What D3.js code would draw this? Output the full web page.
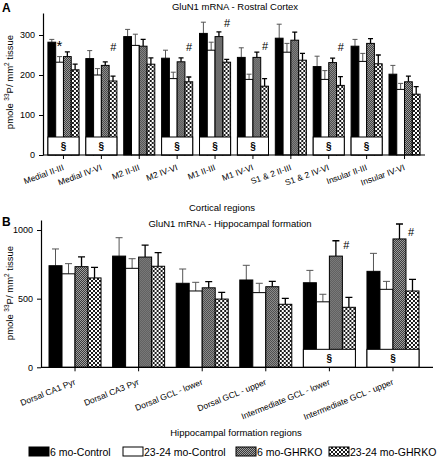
<!DOCTYPE html>
<html><head><meta charset="utf-8">
<script src="https://cdn.jsdelivr.net/npm/d3@7"></script>
<style>body{margin:0;background:#fff}svg{display:block;font-family:"Liberation Sans",Arial,sans-serif}</style>
</head><body><svg id="c" width="438" height="457"></svg>
<script>
// ---------- DATA ----------
const series = ["6 mo-Control","23-24 mo-Control","6 mo-GHRKO","23-24 mo-GHRKO"];
const catsA = ["Medial II-III","Medial IV-VI","M2 II-III","M2 IV-VI","M1 II-III","M1 IV-VI","S1 & 2 II-III","S1 & 2 IV-VI","Insular II-III","Insular IV-VI"];
const meanA_ctl6  = [282,241,296,242,304,244,292,221,272,202];
const meanA_ctl23 = [232,200,274,191,262,189,257,189,234,164];
const meanA_ko6   = [246,224,272,233,296,244,287,231,279,183];
const meanA_ko23  = [213,185,227,183,232,172,237,174,228,152];
const errA_ctl6   = [289,261,314,262,332,268,327,247,289,224];
const errA_ctl23  = [246,216,302,207,282,202,279,211,254,179];
const errA_ko6    = [258,233,289,243,308,257,307,242,291,197];
const errA_ko23   = [227,197,243,195,239,191,254,196,250,171];
const sectA = [1,1,0,1,1,1,0,1,1,0];
const marksA = [{g:0,s:"*",v:283,dx:-4},{g:1,s:"#",v:270,dx:12},{g:3,s:"#",v:270,dx:12},{g:4,s:"#",v:330,dx:12},{g:5,s:"#",v:272,dx:12},{g:7,s:"#",v:270,dx:12}];
const ticksA = [0,100,200,300];
const sectBoxA = 45;

const catsB = ["Dorsal CA1 Pyr","Dorsal CA3 Pyr","Dorsal GCL - lower","Dorsal GCL - upper","Intermediate GCL - lower","Intermediate GCL - upper"];
const meanB_ctl6  = [740,810,612,636,616,699];
const meanB_ctl23 = [681,721,556,544,477,568];
const meanB_ko6   = [733,803,579,587,810,935];
const meanB_ko23  = [651,736,497,459,437,556];
const errB_ctl6   = [862,944,716,743,706,830];
const errB_ctl23  = [755,791,619,612,532,626];
const errB_ko6    = [805,890,624,626,922,1044];
const errB_ko23   = [728,835,546,502,510,641];
const sectB = [0,0,0,0,1,1];
const marksB = [{g:4,s:"#",v:890,dx:17},{g:5,s:"#",v:985,dx:18}];
const ticksB = [0,500,1000];
const sectBoxB = 131;

// ---------- DRAW ----------
const svg = d3.select("#c");
const defs = svg.append("defs");
const pg = defs.append("pattern").attr("id","pg").attr("width",2).attr("height",2).attr("patternUnits","userSpaceOnUse");
pg.append("rect").attr("width",2).attr("height",2).attr("fill","#a0a0a0");
pg.append("rect").attr("width",1).attr("height",1).attr("fill","#3a3a3a");
pg.append("rect").attr("x",1).attr("y",1).attr("width",1).attr("height",1).attr("fill","#3a3a3a");
const pc = defs.append("pattern").attr("id","pc").attr("width",4).attr("height",4).attr("patternUnits","userSpaceOnUse");
pc.append("rect").attr("width",4).attr("height",4).attr("fill","#1a1a1a");
pc.append("rect").attr("x",0).attr("y",0).attr("width",2).attr("height",2).attr("fill","#fff");
pc.append("rect").attr("x",2).attr("y",2).attr("width",2).attr("height",2).attr("fill","#fff");
const fills = ["#000","#fff","url(#pg)","url(#pc)"];
const errColor = ["#555","#555","#000","#000"];

function panel(o){
  const g = svg.append("g");
  const y = d3.scaleLinear().domain(o.ydom).range(o.yr);
  const x = d3.scaleBand().domain(o.cats).range(o.xr).paddingInner(o.pi).paddingOuter(o.po);
  const xs = d3.scaleBand().domain(series).range([0,x.bandwidth()]);
  const data = o.cats.map((c,i)=>({c,i,vals:o.means.map((m,k)=>({k,v:m[i],e:o.errs[k][i]}))}));
  const grp = g.selectAll("g.grp").data(data).join("g").attr("transform",d=>`translate(${x(d.c)},0)`);
  grp.selectAll("path.err").data(d=>d.vals).join("path")
    .attr("d",d=>{const cx=xs(series[d.k])+xs.bandwidth()/2;return `M${cx},${y(d.v)}V${y(d.e)}M${cx-o.cap},${y(d.e)}H${cx+o.cap}`;})
    .attr("stroke",d=>errColor[d.k]).attr("stroke-width",d=>d.k>1?1.3:1).attr("fill","none");
  grp.selectAll("rect.bar").data(d=>d.vals).join("rect")
    .attr("x",d=>xs(series[d.k])).attr("width",xs.bandwidth())
    .attr("y",d=>y(d.v)).attr("height",d=>y(0)-y(d.v))
    .attr("fill",d=>fills[d.k]).attr("stroke","#000").attr("stroke-width",1);
  grp.filter(d=>o.sect[d.i]).append("rect")
    .attr("x",0).attr("width",x.bandwidth()).attr("y",y(o.box)).attr("height",y(0)-y(o.box))
    .attr("fill","#fff").attr("stroke","#000").attr("stroke-width",1);
  grp.filter(d=>o.sect[d.i]).append("text").text("§")
    .attr("x",x.bandwidth()/2).attr("y",(y(o.box)+y(0))/2+4).attr("text-anchor","middle")
    .attr("font-size",10).attr("font-weight","bold");
  g.selectAll("text.mk").data(o.marks).join("text").text(d=>d.s)
    .attr("x",d=>x(o.cats[d.g])+x.bandwidth()/2+d.dx).attr("y",d=>y(d.v)+(d.s=="*"?9:4))
    .attr("text-anchor","middle").attr("font-size",d=>d.s=="*"?15:11);
  const ya = g.append("g").attr("transform",`translate(${o.xr[0]},0)`)
    .call(d3.axisLeft(y).tickValues(o.ticks).tickSize(4).tickSizeOuter(0).tickFormat(d3.format("d")));
  ya.selectAll("text").attr("font-size",9).attr("font-family","Liberation Sans, Arial").attr("dx","-1");
  ya.select(".domain").attr("stroke-width",1.2);
  const xa = g.append("g").attr("transform",`translate(0,${y(0)})`)
    .call(d3.axisBottom(x).tickSize(4).tickSizeOuter(0));
  xa.select(".domain").attr("d",`M${o.xr[0]},0H${o.xend}`).attr("stroke-width",1.2);
  xa.selectAll("text").attr("font-size",o.lfs).attr("font-family","Liberation Sans, Arial")
    .attr("text-anchor","end").attr("dy","0.35em")
    .attr("transform",`translate(0,${o.ldy}) rotate(${o.rot})`).attr("y",0).attr("x",0);
  g.append("text").text(o.title).attr("x",o.tx).attr("y",o.ty).attr("text-anchor","middle").attr("font-size",9.5);
  g.append("text").text(o.letter).attr("x",2).attr("y",o.ly).attr("font-size",12).attr("font-weight","bold");
  g.append("text").text(o.xtitle).attr("x",o.xtx).attr("y",o.xty).attr("text-anchor","middle").attr("font-size",9.5);
  const yt = g.append("text").attr("transform",`translate(13,${o.yty}) rotate(-90)`).attr("text-anchor","middle").attr("font-size",9.5);
  yt.append("tspan").text("pmole ");
  yt.append("tspan").text("33").attr("font-size",6.5).attr("dy",-4);
  yt.append("tspan").text("P/  mm").attr("dy",4);
  yt.append("tspan").text("2").attr("font-size",6.5).attr("dy",-4);
  yt.append("tspan").text(" tissue").attr("dy",4);
}

panel({cats:catsA,means:[meanA_ctl6,meanA_ctl23,meanA_ko6,meanA_ko23],errs:[errA_ctl6,errA_ctl23,errA_ko6,errA_ko23],
  sect:sectA,marks:marksA,ticks:ticksA,box:sectBoxA,ydom:[0,355],yr:[155,13],xr:[43,425],xend:425,pi:0.18,po:0.13,cap:2.5,
  lfs:8.5,ldy:12,rot:-20,title:"GluN1 mRNA - Rostral Cortex",tx:235,ty:10,ly:12,letter:"A",xtitle:"Cortical regions",xtx:222,xty:211,yty:82});
panel({cats:catsB,means:[meanB_ctl6,meanB_ctl23,meanB_ko6,meanB_ko23],errs:[errB_ctl6,errB_ctl23,errB_ko6,errB_ko23],
  sect:sectB,marks:marksB,ticks:ticksB,box:sectBoxB,ydom:[0,1073],yr:[367.3,220],xr:[41,427],xend:433,pi:0.182,po:0.126,cap:3.5,
  lfs:8.5,ldy:14,rot:-22,title:"GluN1 mRNA - Hippocampal formation",tx:230,ty:227,ly:226,letter:"B",xtitle:"Hippocampal formation regions",xtx:236,xty:436,yty:293});

const lx = [29,123,236,329];
const lg = svg.append("g").selectAll("g").data(series).join("g").attr("transform",(d,i)=>`translate(${lx[i]},447)`);
lg.append("rect").attr("width",20).attr("height",9).attr("fill",(d,i)=>fills[i]).attr("stroke","#000").attr("stroke-width",1);
lg.append("text").text(d=>d).attr("x",21).attr("y",9).attr("font-size",10.5);
</script></body></html>
